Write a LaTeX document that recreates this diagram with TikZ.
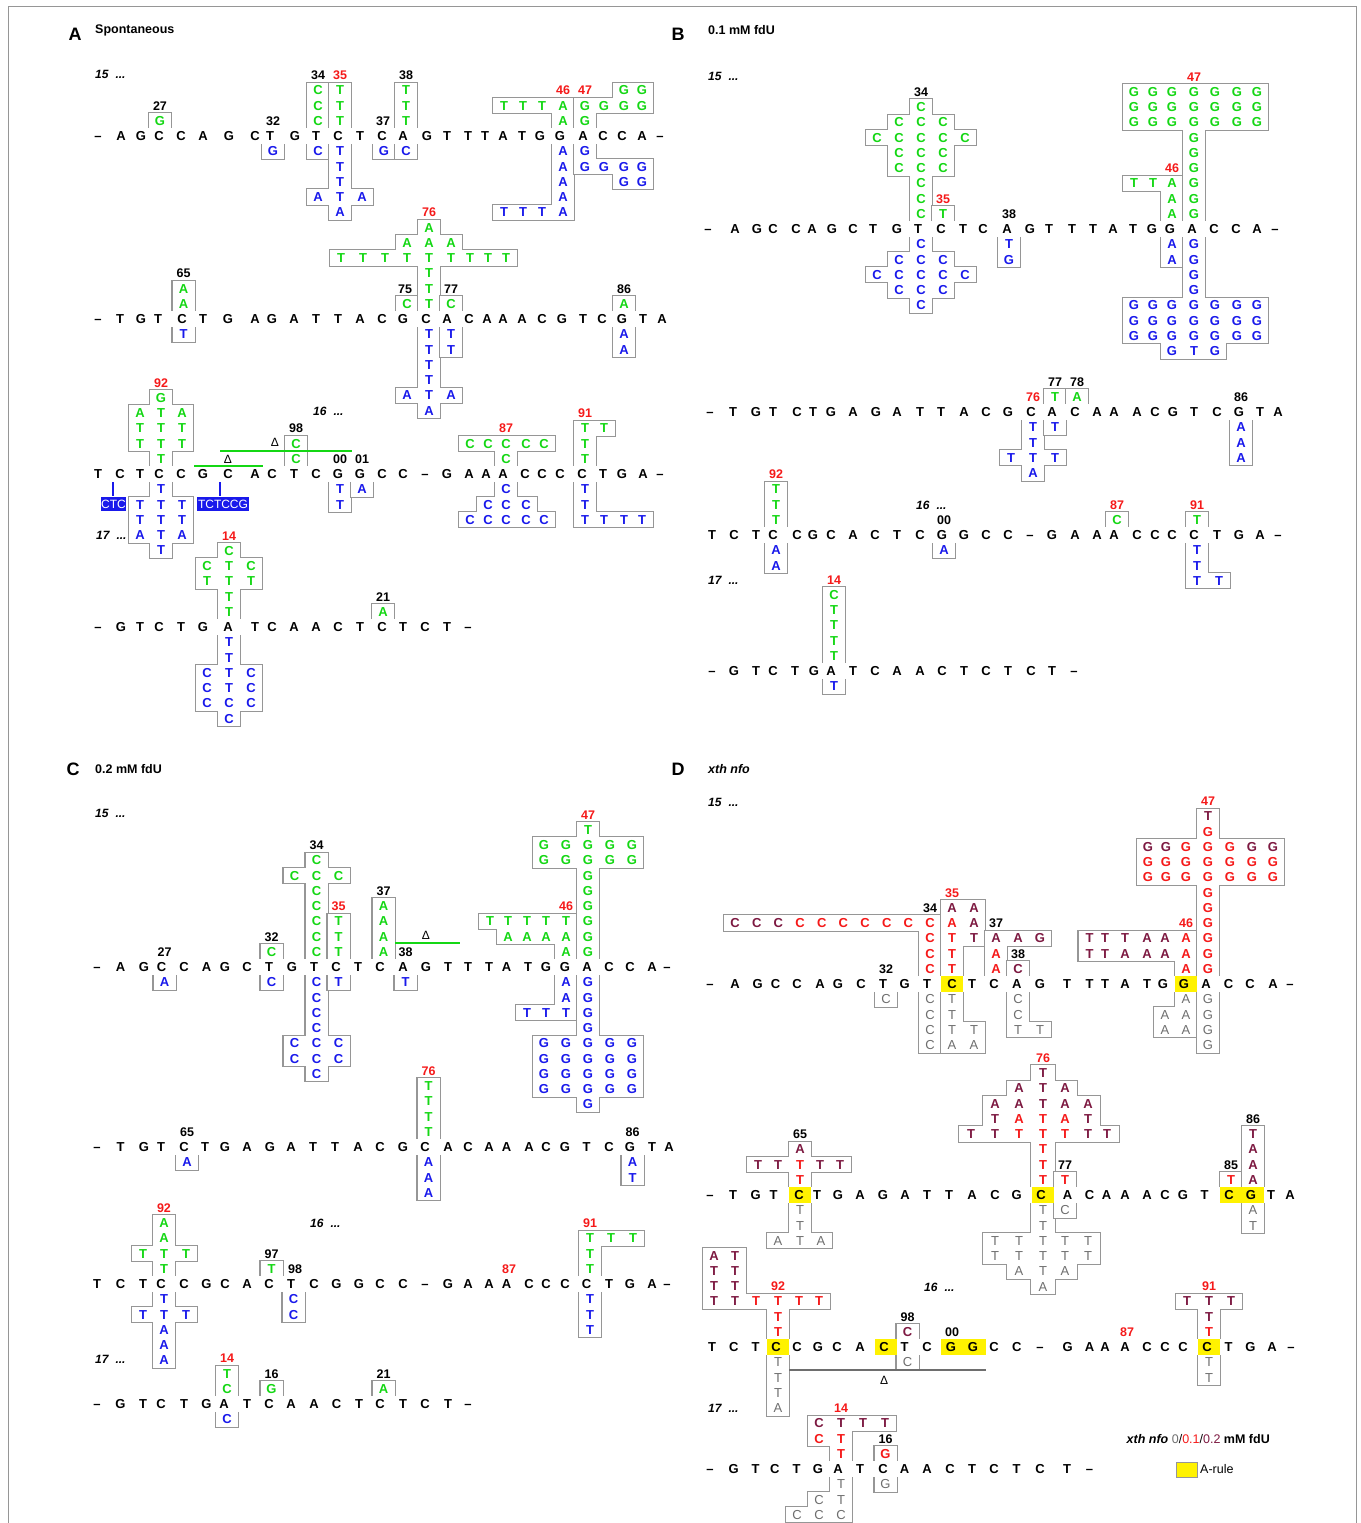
\documentclass[tikz,border=0pt]{standalone}
\usepackage{fontspec}
\setmainfont{Liberation Sans}
\definecolor{cg}{RGB}{20,215,20}
\definecolor{cb}{RGB}{25,25,235}
\definecolor{cr}{RGB}{245,25,25}
\definecolor{cm}{RGB}{125,25,65}
\definecolor{ck}{RGB}{110,110,110}
\definecolor{boxc}{RGB}{150,150,150}
\newcommand\CH{15.25}
\newcommand\Fk{\mdseries}
\newcommand\CellPath[5]{%
  \pgfmathsetmacro\Yc{#1-(#3)*\CH}%
  \pgfmathsetmacro\Yt{ifthenelse((#3)==-1,#1,\Yc-\CH/2)}%
  \pgfmathsetmacro\Yb{ifthenelse((#3)==1,#1,\Yc+\CH/2)}%
  \path[#4] ({#2-#5/2},\Yt) rectangle ({#2+#5/2},\Yb);%
}
\newcommand\Grp[3][22]{%
  \foreach \gx/\gr/\gl/\gc in {#3}{\CellPath{#2}{\gx}{\gr}{draw=boxc,line width=2.2pt}{#1}}%
  \foreach \gx/\gr/\gl/\gc in {#3}{\CellPath{#2}{\gx}{\gr}{fill=white}{#1}}%
  \foreach \gx/\gr/\gl/\gc in {#3}{\node[mut,text=c\gc] at (\gx,{#2-(\gr)*\CH}) {\csname F\gc\endcsname\gl};}%
}
\newcommand\Seq[2]{\foreach \sx/\sl in {#2}{\node[mainL] at (\sx,#1) {\sl};}}
\newcommand\Lb[5][black]{\node[lab,text=#1] at (#3,{#2-(#4)*\CH}) {#5};}
\newcommand\Band[3]{\fill[white] (#2,{#1-8}) rectangle (#3,{#1+8});}
\newcommand\Yel[3][22]{\fill[yellow] ({#3-#1/2},{#2-7.6}) rectangle ({#3+#1/2},{#2+7.6});}
\tikzset{
 mainL/.style={font=\fontsize{13}{13}\selectfont\bfseries,inner sep=0pt,anchor=base,yshift=-4.65pt},
 mut/.style={font=\fontsize{13}{13}\selectfont\bfseries,inner sep=0pt,anchor=base,yshift=-4.65pt},
 lab/.style={font=\fontsize{12.5}{12.5}\selectfont\bfseries,inner sep=0pt,anchor=base,yshift=-4.5pt},
 dotsl/.style={font=\fontsize{12}{12}\selectfont\bfseries\itshape,inner sep=0pt,anchor=base west,yshift=-4.3pt},
 ttl/.style={font=\fontsize{12.5}{12.5}\selectfont\bfseries,inner sep=0pt,anchor=base west,yshift=-4.5pt},
 plet/.style={font=\fontsize{18}{18}\selectfont\bfseries,inner sep=0pt,anchor=base,yshift=-6.4pt},
 ins/.style={fill=cb,text=white,font=\fontsize{12}{12}\selectfont,inner sep=0.6pt,minimum height=14pt},
 dlt/.style={font=\fontsize{12}{12}\selectfont,inner sep=0pt,anchor=base,yshift=-4.3pt},
}
\begin{document}
\begin{tikzpicture}[x=1pt,y=-1pt]
\useasboundingbox (0,0) rectangle (1360,1523);
\draw[boxc,line width=1pt] (8,1523)--(8,6)--(1356,6)--(1356,1523);
%================= PANEL A =================
\Grp{136}{160/1/G/g}
\Grp{136}{273/-1/G/b}
\Grp{136}{318/3/C/g,318/2/C/g,318/1/C/g,318/-1/C/b}
\Grp{136}{340/3/T/g,340/2/T/g,340/1/T/g,340/-1/T/b,340/-2/T/b,340/-3/T/b,318/-4/A/b,340/-4/T/b,362/-4/A/b,340/-5/A/b}
\Grp{136}{384/-1/G/b}
\Grp{136}{406/3/T/g,406/2/T/g,406/1/T/g,406/-1/C/b}
\Grp{136}{504/2/T/g,523/2/T/g,542/2/T/g,563/2/A/g,563/1/A/g,563/-1/A/b,563/-2/A/b,563/-3/A/b,563/-4/A/b,504/-5/T/b,523/-5/T/b,542/-5/T/b,563/-5/A/b}
\Grp{136}{585/1/G/g,585/2/G/g,604/2/G/g,624/2/G/g,642/2/G/g,624/3/G/g,642/3/G/g,585/-1/G/b,585/-2/G/b,604/-2/G/b,624/-2/G/b,642/-2/G/b,624/-3/G/b,642/-3/G/b}
\Grp{319}{183.5/2/A/g,183.5/1/A/g,183.5/-1/T/b}
\Grp{319}{407/1/C/g}
\Grp{319}{429/1/T/g,429/2/T/g,429/3/T/g,341/4/T/g,363/4/T/g,385/4/T/g,407/4/T/g,429/4/T/g,451/4/T/g,470/4/T/g,488/4/T/g,506/4/T/g,407/5/A/g,429/5/A/g,451/5/A/g,429/6/A/g,429/-1/T/b,429/-2/T/b,429/-3/T/b,429/-4/T/b,407/-5/A/b,429/-5/T/b,451/-5/A/b,429/-6/A/b}
\Grp{319}{451/1/C/g,451/-1/T/b,451/-2/T/b}
\Grp{319}{624/1/A/g,624/-1/A/b,624/-2/A/b}
\Grp{474}{161/5/G/g,140/4/A/g,161/4/T/g,182/4/A/g,140/3/T/g,161/3/T/g,182/3/T/g,140/2/T/g,161/2/T/g,182/2/T/g,161/1/T/g,161/-1/T/b,140/-2/T/b,161/-2/T/b,182/-2/T/b,140/-3/T/b,161/-3/T/b,182/-3/T/b,140/-4/A/b,161/-4/T/b,182/-4/A/b,161/-5/T/b}
\Grp{474}{296/2/C/g,296/1/C/g}
\Grp{474}{340/-1/T/b,340/-2/T/b}
\Grp{474}{362/-1/A/b}
\Grp{474}{470/2/C/g,488/2/C/g,506/2/C/g,526/2/C/g,544/2/C/g,506/1/C/g,506/-1/C/b,488/-2/C/b,506/-2/C/b,526/-2/C/b,470/-3/C/b,488/-3/C/b,506/-3/C/b,526/-3/C/b,544/-3/C/b}
\Grp{474}{585/3/T/g,604/3/T/g,585/2/T/g,585/1/T/g,585/-1/T/b,585/-2/T/b,585/-3/T/b,604/-3/T/b,624/-3/T/b,642/-3/T/b}
\Grp{627}{229/1/T/g,229/2/T/g,207/3/T/g,229/3/T/g,251/3/T/g,207/4/C/g,229/4/T/g,251/4/C/g,229/5/C/g,229/-1/T/b,229/-2/T/b,207/-3/C/b,229/-3/T/b,251/-3/C/b,207/-4/C/b,229/-4/T/b,251/-4/C/b,207/-5/C/b,229/-5/C/b,251/-5/C/b,229/-6/C/b}
\Grp{627}{383/1/A/g}
%================= PANEL B =================
\Grp{229}{921/1/C/g,921/2/C/g,921/3/C/g,899/4/C/g,921/4/C/g,943/4/C/g,899/5/C/g,921/5/C/g,943/5/C/g,877/6/C/g,899/6/C/g,921/6/C/g,943/6/C/g,965/6/C/g,899/7/C/g,921/7/C/g,943/7/C/g,921/8/C/g,921/-1/C/b,899/-2/C/b,921/-2/C/b,943/-2/C/b,877/-3/C/b,899/-3/C/b,921/-3/C/b,943/-3/C/b,965/-3/C/b,899/-4/C/b,921/-4/C/b,943/-4/C/b,921/-5/C/b}
\Grp{229}{943/1/T/g}
\Grp{229}{1009/-1/T/b,1009/-2/G/b}
\Grp{229}{1134/3/T/g,1153/3/T/g,1172/3/A/g,1172/2/A/g,1172/1/A/g,1172/-1/A/b,1172/-2/A/b}
\Grp{229}{1194/1/G/g,1194/2/G/g,1194/3/G/g,1194/4/G/g,1194/5/G/g,1194/6/G/g,1134/7/G/g,1153/7/G/g,1172/7/G/g,1194/7/G/g,1215/7/G/g,1237/7/G/g,1257/7/G/g,1134/8/G/g,1153/8/G/g,1172/8/G/g,1194/8/G/g,1215/8/G/g,1237/8/G/g,1257/8/G/g,1134/9/G/g,1153/9/G/g,1172/9/G/g,1194/9/G/g,1215/9/G/g,1237/9/G/g,1257/9/G/g,1194/-1/G/b,1194/-2/G/b,1194/-3/G/b,1194/-4/G/b,1134/-5/G/b,1153/-5/G/b,1172/-5/G/b,1194/-5/G/b,1215/-5/G/b,1237/-5/G/b,1257/-5/G/b,1134/-6/G/b,1153/-6/G/b,1172/-6/G/b,1194/-6/G/b,1215/-6/G/b,1237/-6/G/b,1257/-6/G/b,1134/-7/G/b,1153/-7/G/b,1172/-7/G/b,1194/-7/G/b,1215/-7/G/b,1237/-7/G/b,1257/-7/G/b,1172/-8/G/b,1194/-8/T/b,1215/-8/G/b}
\Grp{412}{1033/-1/T/b,1033/-2/T/b,1011/-3/T/b,1033/-3/T/b,1055/-3/T/b,1033/-4/A/b}
\Grp{412}{1055/1/T/g,1055/-1/T/b}
\Grp{412}{1077/1/A/g}
\Grp{412}{1241/-1/A/b,1241/-2/A/b,1241/-3/A/b}
\Grp{535}{776/1/T/g,776/2/T/g,776/3/T/g,776/-1/A/b,776/-2/A/b}
\Grp{535}{944/-1/A/b}
\Grp{535}{1117/1/C/g}
\Grp{535}{1197/1/T/g,1197/-1/T/b,1197/-2/T/b,1197/-3/T/b,1219/-3/T/b}
\Grp{671}{834/1/T/g,834/2/T/g,834/3/T/g,834/4/T/g,834/5/C/g,834/-1/T/b}
%================= PANEL C =================
\Grp{967}{164.5/-1/A/b}
\Grp{967}{271.5/1/C/g,271.5/-1/C/b}
\Grp{967}{316.5/1/C/g,316.5/2/C/g,316.5/3/C/g,316.5/4/C/g,316.5/5/C/g,294.5/6/C/g,316.5/6/C/g,338.5/6/C/g,316.5/7/C/g,316.5/-1/C/b,316.5/-2/C/b,316.5/-3/C/b,316.5/-4/C/b,294.5/-5/C/b,316.5/-5/C/b,338.5/-5/C/b,294.5/-6/C/b,316.5/-6/C/b,338.5/-6/C/b,316.5/-7/C/b}
\Grp{967}{338.5/1/T/g,338.5/2/T/g,338.5/3/T/g,338.5/-1/T/b}
\Grp{967}{383.5/1/A/g,383.5/2/A/g,383.5/3/A/g,383.5/4/A/g}
\Grp{967}{405.5/-1/T/b}
\Grp{967}{490/3/T/g,508/3/T/g,527/3/T/g,546/3/T/g,566/3/T/g,508/2/A/g,527/2/A/g,546/2/A/g,566/2/A/g,566/1/A/g,566/-1/A/b,566/-2/A/b,527/-3/T/b,546/-3/T/b,566/-3/T/b}
\Grp{967}{588/1/G/g,588/2/G/g,588/3/G/g,588/4/G/g,588/5/G/g,588/6/G/g,544/7/G/g,566/7/G/g,588/7/G/g,610/7/G/g,632/7/G/g,544/8/G/g,566/8/G/g,588/8/G/g,610/8/G/g,632/8/G/g,588/9/T/g,588/-1/G/b,588/-2/G/b,588/-3/G/b,588/-4/G/b,544/-5/G/b,566/-5/G/b,588/-5/G/b,610/-5/G/b,632/-5/G/b,544/-6/G/b,566/-6/G/b,588/-6/G/b,610/-6/G/b,632/-6/G/b,544/-7/G/b,566/-7/G/b,588/-7/G/b,610/-7/G/b,632/-7/G/b,544/-8/G/b,566/-8/G/b,588/-8/G/b,610/-8/G/b,632/-8/G/b,588/-9/G/b}
\Grp{1147}{187/-1/A/b}
\Grp{1147}{428.5/1/T/g,428.5/2/T/g,428.5/3/T/g,428.5/4/T/g,428.5/-1/A/b,428.5/-2/A/b,428.5/-3/A/b}
\Grp{1147}{632.5/-1/A/b,632.5/-2/T/b}
\Grp{1284}{164/1/T/g,143/2/T/g,164/2/T/g,186/2/T/g,164/3/A/g,164/4/A/g,164/-1/T/b,143/-2/T/b,164/-2/T/b,186/-2/T/b,164/-3/A/b,164/-4/A/b,164/-5/A/b}
\Grp{1284}{271.5/1/T/g}
\Grp{1284}{293.5/-1/C/b,293.5/-2/C/b}
\Grp{1284}{590/1/T/g,590/2/T/g,590/3/T/g,611/3/T/g,633/3/T/g,590/-1/T/b,590/-2/T/b,590/-3/T/b}
\Grp{1404}{227/1/C/g,227/2/T/g,227/-1/C/b}
\Grp{1404}{271.5/1/G/g}
\Grp{1404}{383.5/1/A/g}
%================= PANEL D =================
\Grp{984}{886/-1/C/k}
\Grp{984}{930/1/C/r,930/2/C/r,930/3/C/r,735/4/C/m,756.7/4/C/m,778.3/4/C/m,800/4/C/r,821.7/4/C/r,843.3/4/C/r,865/4/C/r,886.7/4/C/r,908.3/4/C/r,930/4/C/r,930/-1/C/k,930/-2/C/k,930/-3/C/k,930/-4/C/k}
\Grp{984}{952/1/T/r,952/2/T/r,952/3/T/r,974/3/T/m,952/4/A/r,974/4/A/m,952/5/A/m,974/5/A/m,952/-1/T/k,952/-2/T/k,952/-3/T/k,974/-3/T/k,952/-4/A/k,974/-4/A/k}
\Grp{984}{996/1/A/r,996/2/A/r,996/3/A/m,1018/3/A/m,1040/3/G/m}
\Grp{984}{1018/1/C/m,1018/-1/C/k,1018/-2/C/k,1018/-3/T/k,1040/-3/T/k}
\Grp{984}{1089.5/3/T/m,1105/3/T/m,1125/3/T/m,1147/3/A/m,1165/3/A/m,1186/3/A/r,1089.5/2/T/m,1105/2/T/m,1125/2/A/m,1147/2/A/m,1165/2/A/m,1186/2/A/r,1186/1/A/r,1186/-1/A/k,1165/-2/A/k,1186/-2/A/k,1165/-3/A/k,1186/-3/A/k}
\Grp{984}{1208/1/G/r,1208/2/G/r,1208/3/G/r,1208/4/G/r,1208/5/G/r,1208/6/G/r,1147.8/7/G/r,1166/7/G/r,1186/7/G/r,1208/7/G/r,1230/7/G/r,1252/7/G/r,1273/7/G/r,1147.8/8/G/r,1166/8/G/r,1186/8/G/r,1208/8/G/r,1230/8/G/r,1252/8/G/r,1273/8/G/r,1147.8/9/G/m,1166/9/G/m,1186/9/G/r,1208/9/G/r,1230/9/G/r,1252/9/G/m,1273/9/G/m,1208/10/G/r,1208/11/T/m,1208/-1/G/k,1208/-2/G/k,1208/-3/G/k,1208/-4/G/k}
\Grp{1195}{800/1/T/r,758/2/T/m,778/2/T/m,800/2/T/r,820/2/T/m,840/2/T/m,800/3/A/m,800/-1/T/k,800/-2/T/k,778/-3/A/k,800/-3/T/k,821/-3/A/k}
\Grp[24]{1195}{1043/1/T/r,1043/2/T/r,1043/3/T/r,971/4/T/m,995/4/T/m,1019/4/T/r,1043/4/T/r,1065/4/T/r,1088/4/T/m,1107/4/T/m,995/5/T/m,1019/5/A/r,1043/5/T/r,1065/5/A/r,1088/5/T/m,995/6/A/m,1019/6/A/m,1043/6/T/m,1065/6/A/m,1088/6/A/m,1019/7/A/m,1043/7/T/m,1065/7/A/m,1043/8/T/m,1043/-1/T/k,1043/-2/T/k,995/-3/T/k,1019/-3/T/k,1043/-3/T/k,1065/-3/T/k,1088/-3/T/k,995/-4/T/k,1019/-4/T/k,1043/-4/T/k,1065/-4/T/k,1088/-4/T/k,1019/-5/A/k,1043/-5/T/k,1065/-5/A/k,1043/-6/A/k}
\Grp{1195}{1065/1/T/r,1065/-1/C/k}
\Grp{1195}{1231/1/T/r}
\Grp{1195}{1253/1/A/m,1253/2/A/m,1253/3/A/m,1253/4/T/m,1253/-1/A/k,1253/-2/T/k}
\Grp{1347}{714/6/A/m,735/6/T/m,714/5/T/m,735/5/T/m,714/4/T/m,735/4/T/m,714/3/T/m,735/3/T/m,756/3/T/r,778/3/T/r,799/3/T/r,819/3/T/r,778/2/T/r,778/1/T/r,778/-1/T/k,778/-2/T/k,778/-3/T/k,778/-4/A/k}
\Grp{1347}{907.5/1/C/m,907.5/-1/C/k}
\Grp{1347}{1209/1/T/r,1209/2/T/m,1187/3/T/m,1209/3/T/m,1231/3/T/m,1209/-1/T/k,1209/-2/T/k}
\Grp{1469}{841/1/T/r,819/2/C/r,841/2/T/r,819/3/C/m,841/3/T/m,863/3/T/m,885/3/T/m,841/-1/T/k,819/-2/C/k,841/-2/T/k,797/-3/C/k,819/-3/C/k,841/-3/C/k}
\Grp{1469}{885.5/1/G/r,885.5/-1/G/k}
%================= BANDS =================
\Band{136}{85}{672}\Band{319}{85}{672}\Band{474}{85}{672}\Band{627}{85}{672}
\Band{229}{700}{1300}\Band{412}{700}{1300}\Band{535}{700}{1300}\Band{671}{700}{1300}
\Band{967}{85}{678}\Band{1147}{85}{678}\Band{1284}{85}{678}\Band{1404}{85}{678}
\Band{984}{700}{1300}\Band{1195}{700}{1300}\Band{1347}{700}{1300}\Band{1469}{700}{1300}
%================= YELLOW (A-rule) =================
\Yel{984}{952}\Yel{984}{1186}
\Yel{1195}{800}\Yel{1195}{1043}\Yel{1195}{1231}\Yel{1195}{1253}
\Yel{1347}{778}\Yel{1347}{885.5}\Yel[45]{1347}{963.5}\Yel{1347}{1209}
%================= MAIN SEQUENCES =================
\Seq{136}{98/--,121/A,141/G,159/C,181/C,203/A,229/G,255/C,270/T,295/G,316/T,338/C,360/T,382/C,403/A,427/G,447/T,468/T,485/T,503/A,522/T,540/G,560/G,583/A,603/C,622/C,642/A,660/--}
\Seq{319}{98/--,120/T,141/G,158/T,182/C,203/T,228/G,255/A,272/G,294/A,316/T,338/T,360/A,382/C,403/G,426/C,447/A,469/C,487/A,503/A,522/A,542/C,562/G,583/T,602/C,622/G,643/T,662/A}
\Seq{474}{98/T,120/C,140/T,159/C,181/C,203/G,228/C,255/A,272/C,294/T,316/C,338/G,360/G,382/C,403/C,425/--,447/G,469/A,486/A,503/A,525/C,542/C,560/C,582/C,603/T,622/G,643/A,660/--}
\Seq{627}{98/--,121/G,140/T,159/C,181/T,203/G,228/A,255/T,272/C,294/A,316/A,338/C,360/T,382/C,403/T,425/C,447/T,468/--}
\Seq{229}{708/--,735/A,757/G,773/C,796/C,812/A,832/G,853/C,873/T,897/G,918/T,941/C,963/T,983/C,1007/A,1030/G,1049/T,1072/T,1093/T,1113/A,1133/T,1152/G,1170/G,1192/A,1214/C,1236/C,1257/A,1275/--}
\Seq{412}{710/--,733/T,756/G,773/T,797/C,813/T,831/G,853/A,876/G,897/A,920/T,941/T,964/A,986/C,1008/G,1031/C,1052/A,1075/C,1097/A,1114/A,1137/A,1155/C,1173/G,1194/T,1217/C,1239/G,1260/T,1278/A}
\Seq{535}{712/T,734/C,756/T,773/C,797/C,813/G,831/C,853/A,875/C,897/T,920/C,942/G,964/G,986/C,1008/C,1030/--,1052/G,1075/A,1097/A,1114/A,1137/C,1155/C,1172/C,1194/C,1217/T,1239/G,1260/A,1278/--}
\Seq{671}{712/--,734/G,756/T,773/C,795/T,814/G,831/A,853/T,875/C,897/A,920/A,942/C,964/T,986/C,1008/T,1031/C,1052/T,1074/--}
\Seq{967}{97/--,120.5/A,144/G,161.5/C,184/C,206.5/A,225/G,247/C,269/T,292/G,314/T,336/C,358/T,380/C,403/A,426/G,448/T,468/T,489/T,506.5/A,528/T,546/G,565/G,587/A,609/C,630/C,652/A,667/--}
\Seq{1147}{97/--,120.5/T,144/G,161/T,184/C,205/T,225/G,247/A,270/G,291/A,313/T,335/T,358/A,380/C,403/G,425/C,448/A,468/C,489/A,506.5/A,529/A,546/C,565/G,586.5/T,609/C,630/G,652/T,669/A}
\Seq{1284}{97/T,120.5/C,143/T,161/C,184/C,206.5/G,225/C,247/A,269/C,291/T,314/C,336.5/G,359/G,380/C,403/C,425/--,448/G,468/A,489/A,506.5/A,529/C,546/C,565/C,586.5/C,609/T,630/G,652/A,667/--}
\Seq{1404}{97/--,120.5/G,143/T,161/C,184/T,206.5/G,224/A,247/T,269/C,291/A,314/A,336.5/C,359/T,380/C,403/T,425/C,448/T,468/--}
\Seq{984}{710/--,735/A,757.6/G,775.5/C,797/C,820/A,838/G,861/C,883/T,904.6/G,927/T,952/C,972/T,994/C,1016.7/A,1040/G,1067/T,1089.5/T,1105/T,1125/A,1147/T,1163/G,1184/G,1206/A,1228.5/C,1250/C,1273/A,1290/--}
\Seq{1195}{710/--,733/T,755.6/G,773.5/T,799/C,817/T,838/G,860/A,883/G,905/A,927/T,949/T,972/A,995/C,1016.7/G,1041/C,1067.6/A,1089.5/C,1106.5/A,1125/A,1147/A,1165/C,1183/G,1204.7/T,1229/C,1251/G,1271/T,1290/A}
\Seq{1347}{712/T,733.7/C,755.6/T,776/C,797/C,818/G,837/C,860/A,884/C,904.6/T,927/C,951/G,973/G,994/C,1016.7/C,1040/--,1067.6/G,1089.5/A,1105/A,1125/A,1147/C,1165/C,1183/C,1207/C,1228.5/T,1250.4/G,1272/A,1291/--}
\Seq{1469}{710/--,733.7/G,755.6/T,774.7/C,796.5/T,818/G,838/A,860/T,883/C,904.6/A,927/A,950/C,972/T,994/C,1016.7/T,1040/C,1067/T,1089.5/--}
%================= POSITION LABELS =================
\Lb{136}{160}{2}{27}\Lb{136}{273}{1}{32}\Lb{136}{318}{4}{34}\Lb[cr]{136}{340}{4}{35}
\Lb{136}{383}{1}{37}\Lb{136}{406}{4}{38}\Lb[cr]{136}{563}{3}{46}\Lb[cr]{136}{585}{3}{47}
\Lb{319}{183.5}{3}{65}\Lb{319}{405}{2}{75}\Lb[cr]{319}{429}{7}{76}\Lb{319}{451}{2}{77}\Lb{319}{624}{2}{86}
\Lb[cr]{474}{161}{6}{92}\Lb{474}{296}{3}{98}\Lb{474}{340}{1}{00}\Lb{474}{362}{1}{01}
\Lb[cr]{474}{506}{3}{87}\Lb[cr]{474}{585}{4}{91}
\Lb[cr]{627}{229}{6}{14}\Lb{627}{383}{2}{21}
\Lb{229}{921}{9}{34}\Lb[cr]{229}{943}{2}{35}\Lb{229}{1009}{1}{38}\Lb[cr]{229}{1172}{4}{46}\Lb[cr]{229}{1194}{10}{47}
\Lb[cr]{412}{1033}{1}{76}\Lb{412}{1055}{2}{77}\Lb{412}{1077}{2}{78}\Lb{412}{1241}{1}{86}
\Lb[cr]{535}{776}{4}{92}\Lb{535}{944}{1}{00}\Lb[cr]{535}{1117}{2}{87}\Lb[cr]{535}{1197}{2}{91}
\Lb[cr]{671}{834}{6}{14}
\Lb{967}{164.5}{1}{27}\Lb{967}{271.5}{2}{32}\Lb{967}{316.5}{8}{34}\Lb[cr]{967}{338.5}{4}{35}
\Lb{967}{383.5}{5}{37}\Lb{967}{405.5}{1}{38}\Lb[cr]{967}{566}{4}{46}\Lb[cr]{967}{588}{10}{47}
\Lb{1147}{187}{1}{65}\Lb[cr]{1147}{428.5}{5}{76}\Lb{1147}{632.5}{1}{86}
\Lb[cr]{1284}{164}{5}{92}\Lb{1284}{271.5}{2}{97}\Lb{1284}{295}{1}{98}\Lb[cr]{1284}{509}{1}{87}\Lb[cr]{1284}{590}{4}{91}
\Lb[cr]{1404}{227}{3}{14}\Lb{1404}{271.5}{2}{16}\Lb{1404}{383.5}{2}{21}
\Lb{984}{886}{1}{32}\Lb{984}{930}{5}{34}\Lb[cr]{984}{952}{6}{35}\Lb{984}{996}{4}{37}\Lb{984}{1018}{2}{38}
\Lb[cr]{984}{1186}{4}{46}\Lb[cr]{984}{1208}{12}{47}
\Lb{1195}{800}{4}{65}\Lb[cr]{1195}{1043}{9}{76}\Lb{1195}{1065}{2}{77}\Lb{1195}{1231}{2}{85}\Lb{1195}{1253}{5}{86}
\Lb[cr]{1347}{778}{4}{92}\Lb{1347}{907.5}{2}{98}\Lb{1347}{952}{1}{00}\Lb[cr]{1347}{1127}{1}{87}\Lb[cr]{1347}{1209}{4}{91}
\Lb[cr]{1469}{841}{4}{14}\Lb{1469}{885.5}{2}{16}
%================= EXTRAS =================
\node[plet] (pA) at (75,34) {A};
\node[ttl] (tA) at (95,29) {Spontaneous};
\node[plet] (pB) at (678,34) {B};
\node[ttl] (tB) at (708,30) {0.1 mM fdU};
\node[plet] (pC) at (73,769) {C};
\node[ttl] (tC) at (95,769) {0.2 mM fdU};
\node[plet] (pD) at (678,769) {D};
\node[ttl,font=\fontsize{12.5}{12.5}\selectfont\bfseries\itshape] (tD) at (708,769) {xth nfo};
\foreach \px/\py/\pt in {95/74/15,313/411/16,96/535/17,708/76/15,916/505/16,708/580/17,95/813/15,310/1223/16,95/1359/17,708/802/15,924/1287/16,708/1408/17}
  {\node[dotsl] at (\px,\py) {\pt\hspace{7pt}...};}
% panel A insertions / deletions
\draw[cb,line width=1.4pt] (113,482)--(113,496);
\node[ins] (insA) at (113.5,504) {CTC};
\draw[cb,line width=1.4pt] (220,482)--(220,496);
\node[ins] (insB) at (223,504) {TCTCCG};
\draw[cg,line width=2pt] (220,450.5)--(352,450.5);
\node[dlt] (dA1) at (275,442) {Δ};
\draw[cg,line width=2pt] (194,466)--(263,466);
\node[dlt] (dA2) at (228,459) {Δ};
% panel C deletion
\draw[cg,line width=2pt] (395,943)--(460,943);
\node[dlt] (dC1) at (426,935) {Δ};
% panel D deletion
\draw[ck,line width=2pt] (789,1369.5)--(986,1369.5);
\node[dlt] (dD1) at (884,1380) {Δ};
% legend
\node[anchor=base east,yshift=-4.5pt,inner sep=0pt,font=\fontsize{12.5}{12.5}\selectfont] (leg) at (1270,1439)
  {\textbf{\textit{xth nfo}} \textcolor{ck}{0}/\textcolor{cr}{0.1}/\textcolor{cm}{0.2} \textbf{mM fdU}};
\draw[boxc,fill=yellow,line width=0.8pt] (1176,1462) rectangle (1197,1477);
\node[anchor=base west,yshift=-4.5pt,inner sep=0pt,font=\fontsize{12.5}{12.5}\selectfont] (arule) at (1200,1469) {A-rule};
\end{tikzpicture}
\end{document}
